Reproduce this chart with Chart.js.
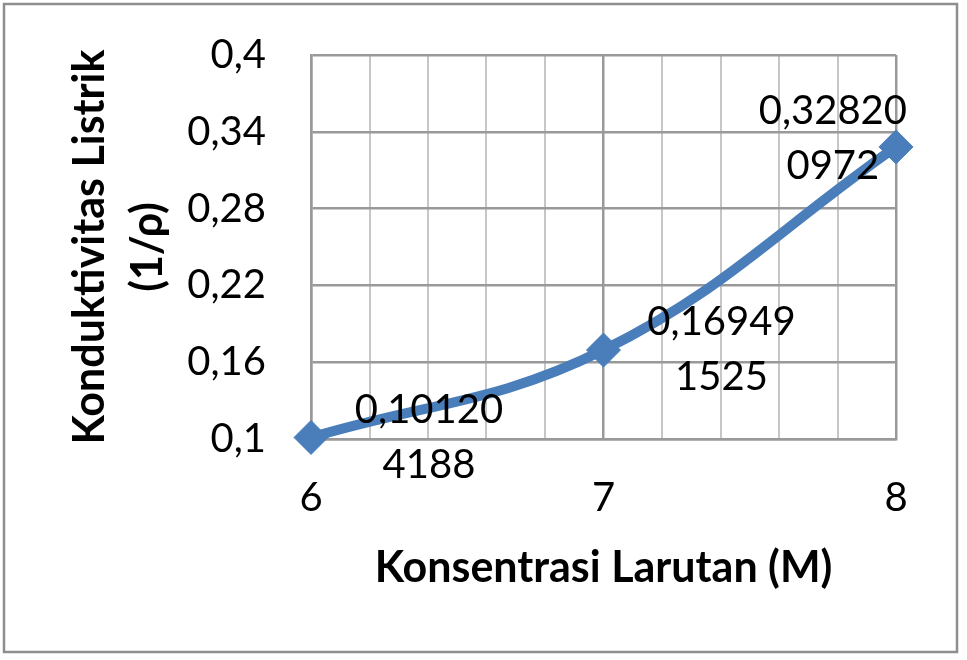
<!DOCTYPE html>
<html><head><meta charset="utf-8">
<script src="https://cdn.jsdelivr.net/npm/chart.js@4.4.0/dist/chart.umd.min.js"></script>
<style>html,body{margin:0;padding:0;background:#fff;}#wrap{position:relative;width:967px;height:660px;}</style>
</head><body><div id="wrap"><canvas id="c" width="967" height="660"></canvas></div>
<script>
// ---- data ----
const concentrations = [6, 7, 8];
const conductivity = [0.101204188, 0.169491525, 0.328200972];
const xMajorTickLabels = ['6', '7', '8'];
const xGridValues = [6, 6.2, 6.4, 6.6, 6.8, 7, 7.2, 7.4, 7.6, 7.8, 8];
const yTickValues = [0.1, 0.16, 0.22, 0.28, 0.34, 0.4];
const xTitle = 'Konsentrasi Larutan (M)';
const yTitle = ['Konduktivitas Listrik', '(1/ρ)'];

const FONT = 'Lato';
const isMajor = v => Math.abs(v - Math.round(v)) < 1e-9;

const frame = {
  id: 'frame',
  beforeDraw(chart) {
    const c = chart.ctx;
    c.save();
    c.fillStyle = '#fff';
    c.fillRect(0, 0, chart.width, chart.height);
    c.strokeStyle = '#8e8e8e';
    c.lineWidth = 2.5;
    c.strokeRect(4, 4, 953, 648);
    c.restore();
  }
};

const pointLabels = {
  id: 'pointLabels',
  afterDatasetsDraw(chart) {
    const c = chart.ctx;
    const meta = chart.getDatasetMeta(0);
    c.save();
    c.font = '40px ' + FONT;
    c.fillStyle = '#000';
    c.textAlign = 'center';
    c.textBaseline = 'middle';
    meta.data.forEach((pt, i) => {
      const s = String(conductivity[i]).replace('.', ',');
      const lines = [s.slice(0, 7), s.slice(7)];
      const w = Math.max(...lines.map(l => c.measureText(l).width));
      let cx = pt.x + 118;
      let cy = pt.y;
      const maxRight = 907;
      if (cx + w / 2 > maxRight) { cx = maxRight - w / 2; cy -= 8; }
      lines.forEach((l, k) => c.fillText(l, cx, cy + (k - 0.5) * 55));
    });
    c.restore();
  }
};

function zeroPad(s) { s.paddingTop = 0; s.paddingBottom = 0; s.paddingLeft = 0; s.paddingRight = 0; }

function draw() {
  new Chart(document.getElementById('c'), {
    type: 'line',
    data: {
      datasets: [{
        data: concentrations.map((x, i) => ({ x: x, y: conductivity[i] })),
        borderColor: '#4A7EBB',
        backgroundColor: '#4A7EBB',
        borderWidth: 10,
        tension: 0.4,
        pointStyle: 'rectRot',
        pointRadius: 17,
        pointBorderWidth: 1,
        pointBackgroundColor: '#4A7EBB',
        pointBorderColor: '#4A7EBB',
        clip: false,
        fill: false
      }]
    },
    options: {
      responsive: false,
      animation: false,
      devicePixelRatio: 1,
      layout: { padding: { top: 55, right: 71, left: 0, bottom: 0 } },
      plugins: { legend: { display: false }, tooltip: { enabled: false } },
      scales: {
        x: {
          type: 'linear',
          min: 6, max: 8,
          afterBuildTicks: s => { s.ticks = xGridValues.map(v => ({ value: v })); },
          afterFit: s => { s.height = 221; zeroPad(s); },
          ticks: {
            autoSkip: false, maxRotation: 0, padding: 35,
            color: '#000',
            font: { family: FONT, size: 40 },
            callback: v => xMajorTickLabels.find(l => Math.abs(Number(l) - v) < 1e-9) || ''
          },
          grid: {
            drawTicks: false,
            color: ctx => isMajor(ctx.tick.value) ? '#999999' : '#c6c6c6',
            lineWidth: ctx => isMajor(ctx.tick.value) ? 2.5 : 2
          },
          border: { display: true, color: '#999999', width: 2.5 },
          title: {
            display: true, text: xTitle, color: '#000',
            font: { family: FONT, size: 43, weight: 'bold', lineHeight: 1.2 },
            padding: { top: 0, bottom: 66 }
          }
        },
        y: {
          type: 'linear',
          min: 0.1, max: 0.4,
          afterBuildTicks: s => { s.ticks = yTickValues.map(v => ({ value: v })); },
          afterFit: s => { s.width = 311; zeroPad(s); },
          ticks: {
            padding: 45, color: '#000',
            font: { family: FONT, size: 40 },
            callback: v => String(v).replace('.', ',')
          },
          grid: { drawTicks: false, color: '#999999', lineWidth: 2.5 },
          border: { display: true, color: '#999999', width: 2.5 },
          title: {
            display: true, text: yTitle, color: '#000',
            font: { family: FONT, size: 43, weight: 'bold', lineHeight: 1.35 },
            padding: { top: 61, bottom: 0 }
          }
        }
      }
    },
    plugins: [frame, pointLabels]
  });
}

Promise.all([
  document.fonts.load('40px ' + FONT),
  document.fonts.load('bold 43px ' + FONT)
]).then(draw, draw);
</script>
</body></html>
